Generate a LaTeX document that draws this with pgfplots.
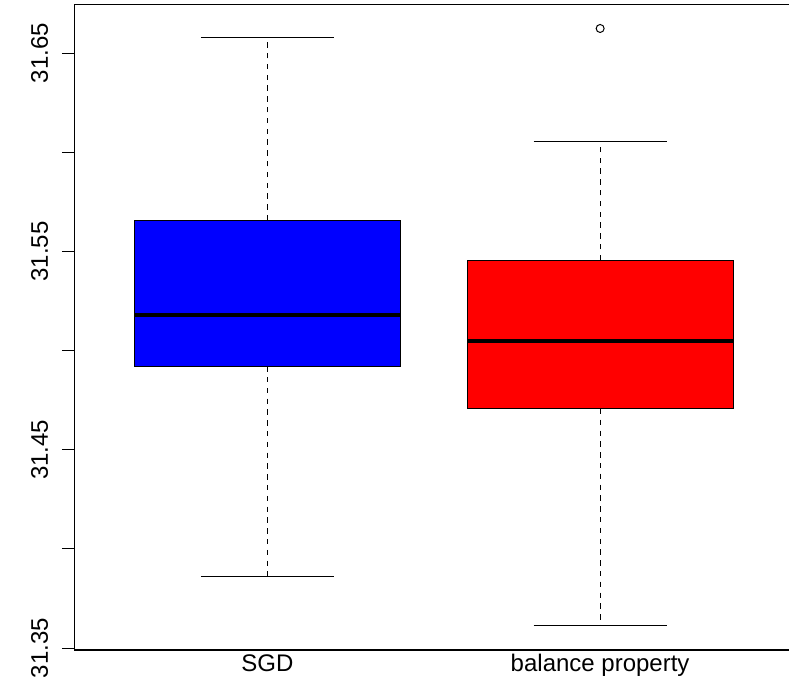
\documentclass[border=0pt]{standalone}
\usepackage{fontspec}
\setmainfont{Liberation Sans}
\usepackage{pgfplots}
\pgfplotsset{compat=1.18}
\usepgfplotslibrary{statistics}
\pgfplotsset{
  rwhisk/.style={
    boxplot/draw/lower whisker/.code={%
      \draw[dash pattern=on 2.7pt off 2.7pt] (boxplot cs:\pgfplotsboxplotvalue{lower quartile}) -- (boxplot cs:\pgfplotsboxplotvalue{lower whisker});
      \draw[solid] (boxplot whisker cs:\pgfplotsboxplotvalue{lower whisker},0) -- (boxplot whisker cs:\pgfplotsboxplotvalue{lower whisker},1);
    },
    boxplot/draw/upper whisker/.code={%
      \draw[dash pattern=on 2.7pt off 2.7pt] (boxplot cs:\pgfplotsboxplotvalue{upper quartile}) -- (boxplot cs:\pgfplotsboxplotvalue{upper whisker});
      \draw[solid] (boxplot whisker cs:\pgfplotsboxplotvalue{upper whisker},0) -- (boxplot whisker cs:\pgfplotsboxplotvalue{upper whisker},1);
    },
  }
}
\begin{document}
\begin{tikzpicture}
\begin{axis}[name=ax, scale only axis, width=359.3pt, height=322.75pt,
  xmin=0.42, xmax=2.58, ymin=31.349, ymax=31.6746,
  axis line style={line width=0.6pt},
  xtick={1,2}, xticklabels={SGD,balance property},
  ytick={31.35,31.40,31.45,31.50,31.55,31.60,31.65},
  yticklabels={31.35,,31.45,,31.55,,31.65},
  tick align=outside, ytick pos=left, xtick pos=bottom,
  major tick length=6.35pt,
  xtick style={draw=none},
  ytick style={black, line width=0.5pt},
  ticklabel style={font=\fontsize{12}{14}\selectfont},
  yticklabel style={rotate=90, anchor=base, inner sep=0pt},
  yticklabel shift=7pt,
  xticklabel style={anchor=north, inner sep=0pt},
  xticklabel shift=-4.35pt,
  boxplot/draw direction=y,
]
\addplot[draw=black, line width=0.5pt, rwhisk, mark=o,
  boxplot prepared={draw position=1, lower whisker=31.3859, lower quartile=31.4921,
    median=31.5180, upper quartile=31.5657, upper whisker=31.6582,
    box extend=0.8, whisker extend=0.4,
    every box/.style={fill=blue, draw=black, line width=0.5pt},
    every median/.style={line width=2pt}}] coordinates {};
\addplot[draw=black, line width=0.5pt, rwhisk, mark=o, mark size=2pt,
  mark options={solid, draw=black, fill=white, line width=0.5pt},
  boxplot prepared={draw position=2, lower whisker=31.3611, lower quartile=31.4706,
    median=31.5047, upper quartile=31.5456, upper whisker=31.6056,
    box extend=0.8, whisker extend=0.4,
    every box/.style={fill=red, draw=black, line width=0.5pt},
    every median/.style={line width=2pt}}] coordinates {(2,31.6625)};
\end{axis}
\pgfresetboundingbox
\path[use as bounding box] ([xshift=-37.25pt, yshift=-19.5pt]ax.south west) rectangle ([xshift=-2.05pt, yshift=2.25pt]ax.north east);
\end{tikzpicture}
\end{document}
